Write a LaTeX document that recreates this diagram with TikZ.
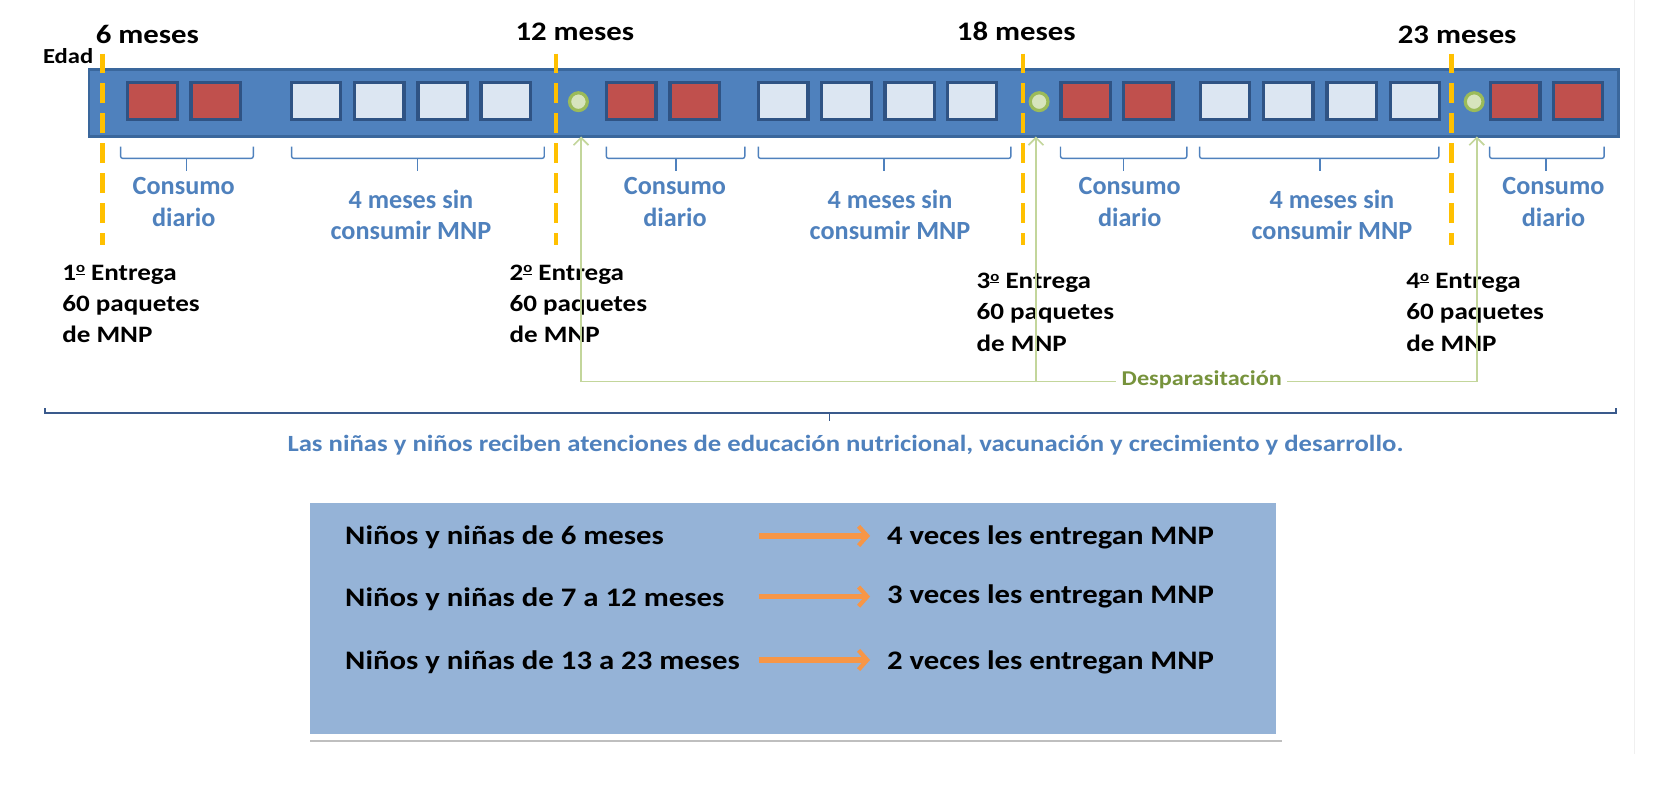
\documentclass[tikz,border=0pt]{standalone}
\usepackage{fontspec}
\usepackage{graphicx}
\setmainfont{Carlito}
\newfontfamily\widefont{Carlito}[FakeStretch=1.15]
\newcommand{\ordmark}{\raisebox{0.30em}{\scalebox{0.62}{\underline{o}}}}
\usetikzlibrary{arrows.meta,shadows}
\definecolor{barblue}{HTML}{4F81BD}
\definecolor{bardark}{HTML}{3A679C}
\definecolor{redsq}{HTML}{C0504D}
\definecolor{lightsq}{HTML}{DCE6F2}
\definecolor{sqborder}{HTML}{2F5384}
\definecolor{dashor}{HTML}{FFC000}
\definecolor{circfill}{HTML}{D7E4BD}
\definecolor{circline}{HTML}{9BBB59}
\definecolor{txtblue}{HTML}{4F81BD}
\definecolor{gline}{HTML}{C3D69B}
\definecolor{gtext}{HTML}{77933C}
\definecolor{navy}{HTML}{3A5A8C}
\definecolor{boxblue}{HTML}{95B3D7}
\definecolor{arrorange}{HTML}{F79646}
\tikzset{
  redbox/.style={draw=sqborder,line width=3,fill=redsq,minimum width=46,minimum height=34,inner sep=0},
  lightbox/.style={draw=sqborder,line width=3,fill=lightsq,minimum width=46,minimum height=34,inner sep=0},
  agedash/.style={draw=dashor,line width=4.3,dash pattern=on 18 off 10},
  greendot/.style={circle,draw=circline,line width=3,fill=circfill,minimum size=16.6,inner sep=0},
  bracket/.style={draw=barblue,line width=1.3,rounded corners=2},
  months/.style={font=\widefont\bfseries\fontsize{25}{30}\selectfont,anchor=base west,inner sep=0},
  agelbl/.style={font=\widefont\bfseries\fontsize{20}{24}\selectfont,anchor=base west,inner sep=0},
  phase/.style={font=\bfseries\fontsize{24.5}{30}\selectfont,text=txtblue,anchor=base,inner sep=0},
  delivery/.style={font=\widefont\bfseries\fontsize{22}{26}\selectfont,anchor=base west,inner sep=0},
  garrow/.style={draw=gline,line width=1.6,-{Straight Barb[length=7,width=14,line width=1.6]}},
  gpath/.style={draw=gline,line width=1.6},
  glabel/.style={font=\widefont\bfseries\fontsize{19.7}{24}\selectfont,text=gtext,fill=white,inner xsep=5,inner ysep=2},
  noteline/.style={font=\widefont\bfseries\fontsize{21.7}{26}\selectfont,text=txtblue,anchor=base,inner sep=0},
  boxtext/.style={font=\widefont\bfseries\fontsize{25}{30}\selectfont,anchor=base west,inner sep=0},
  oarrow/.style={draw=arrorange,line width=5,-{Straight Barb[length=8,width=18,line width=4]}}
}
\begin{document}
\begin{tikzpicture}[x=1pt,y=-1pt]
\useasboundingbox (0,0) rectangle (1568,735);
\fill[white] (0,0) rectangle (1568,735);
\draw[draw=black!6,line width=1] (1527,0) -- (1527,705);

% timeline bar
\node[draw=bardark,line width=2.5,fill=barblue,minimum width=1429,minimum height=62,inner sep=0,anchor=north west] (bar) at (82,64) {};

% squares
\foreach \x/\n in {142.5/ra,201.5/rb,590/rc,649/rd,1014.5/re,1073/rf,1416/rg,1474.5/rh}
  \node[redbox] (\n) at (\x,94.3) {};
\foreach \x/\n in {295.5/la,354.5/lb,413.5/lc,472.5/ld,732/le,791/lf,850/lg,908.5/lh,1144.5/li,1204/lj,1263/lk,1322/ll}
  \node[lightbox] (\n) at (\x,94.3) {};

% age dashed lines
\foreach \x/\n in {95.5/d1,519.5/d2,956/d3,1356.6/d4}{
  \coordinate (\n t) at (\x,50);
  \coordinate (\n b) at (\x,229);
  \draw[agedash] (\n t) -- (\n b);
}

% green dots
\node[greendot] (c2) at (540.5,95) {};
\node[greendot] (c3) at (971,95) {};
\node[greendot] (c4) at (1377.5,95) {};

% month labels
\node[agelbl] (edad) at (40,59) {Edad};
\node[months] (m6) at (89.4,40.5) {6 meses};
\node[months] (m12) at (481.5,37.4) {12 meses};
\node[months] (m18) at (894,37.4) {18 meses};
\node[months] (m23) at (1306,40.5) {23 meses};

% brackets under bar
\foreach \a/\b/\c in {112.7/236.7/174.5, 272.5/508.6/390, 566.6/696/631.7, 708.6/944.6/826, 991/1109/1050, 1121/1344.5/1233.5, 1392/1499/1444.6}{
  \draw[bracket] (\a,137) -- (\a,148) -- (\b,148) -- (\b,137);
  \draw[bracket] (\c,148) -- (\c,160);
}

% phase labels
\foreach \x/\n in {171.7/p1,630.7/p3,1055.6/p5,1451.6/p7}{
  \node[phase] (\n a) at (\x,182) {Consumo};
  \node[phase] (\n b) at (\x,212) {diario};
}
\foreach \x/\n in {384/p2,831.7/p4,1244.6/p6}{
  \node[phase] (\n a) at (\x,194.7) {4 meses sin};
  \node[phase] (\n b) at (\x,223.6) {consumir MNP};
}

% deliveries
\node[delivery] (e1a) at (58,261.7) {1\ordmark{} Entrega};
\node[delivery] (e1b) at (58,291) {60 paquetes};
\node[delivery] (e1c) at (58,320.5) {de MNP};
\node[delivery] (e2a) at (476,261.7) {2\ordmark{} Entrega};
\node[delivery] (e2b) at (476,291) {60 paquetes};
\node[delivery] (e2c) at (476,320.5) {de MNP};
\node[delivery] (e3a) at (912.4,269.4) {3\ordmark{} Entrega};
\node[delivery] (e3b) at (912.4,299) {60 paquetes};
\node[delivery] (e3c) at (912.4,328.6) {de MNP};
\node[delivery] (e4a) at (1314,269.4) {4\ordmark{} Entrega};
\node[delivery] (e4b) at (1314,299) {60 paquetes};
\node[delivery] (e4c) at (1314,328.6) {de MNP};

% deworming
\coordinate (g2) at (543,356.6);
\coordinate (g3) at (968,356.6);
\coordinate (g4) at (1380,356.6);
\coordinate (t2) at (543,127.5);
\coordinate (t3) at (968,127.5);
\coordinate (t4) at (1380,127.5);
\draw[gpath] (g2) -- (g4);
\draw[garrow] (g2) -- (t2);
\draw[garrow] (g3) -- (t3);
\draw[garrow] (g4) -- (t4);
\node[glabel] (desp) at (1123,355) {Desparasitación};

% overall bracket
\draw[draw=navy,line width=1.6] (42,381.6) -- (42,386) -- (1510,386) -- (1510,381.6);
\draw[draw=navy,line width=1.6] (775,386) -- (775,393);
\node[noteline] (note) at (790,422) {Las niñas y niños reciben atenciones de educación nutricional, vacunación y crecimiento y desarrollo.};

% summary box
\node[draw=white,line width=6,fill=boxblue,minimum width=908.5,minimum height=221.4,inner sep=0,anchor=north west,
      drop shadow={shadow xshift=3,shadow yshift=5,opacity=0.45,fill=black!55}] (sbox) at (283.75,464.1) {};
\node[boxtext] (s1) at (322.4,509) {Niños y niñas de 6 meses};
\node[boxtext] (s2) at (322.4,567) {Niños y niñas de 7 a 12 meses};
\node[boxtext] (s3) at (322.4,625.4) {Niños y niñas de 13 a 23 meses};
\node[boxtext] (v1) at (828.8,509) {4 veces les entregan MNP};
\node[boxtext] (v2) at (828.8,563.8) {3 veces les entregan MNP};
\node[boxtext] (v3) at (828.8,626) {2 veces les entregan MNP};
\coordinate (a1s) at (709,500.8); \coordinate (a1e) at (813,500.8);
\coordinate (a2s) at (709,557.5); \coordinate (a2e) at (813,557.5);
\coordinate (a3s) at (709,616.7); \coordinate (a3e) at (813,616.7);
\draw[oarrow] (a1s) -- (a1e);
\draw[oarrow] (a2s) -- (a2e);
\draw[oarrow] (a3s) -- (a3e);
\end{tikzpicture}
\end{document}
